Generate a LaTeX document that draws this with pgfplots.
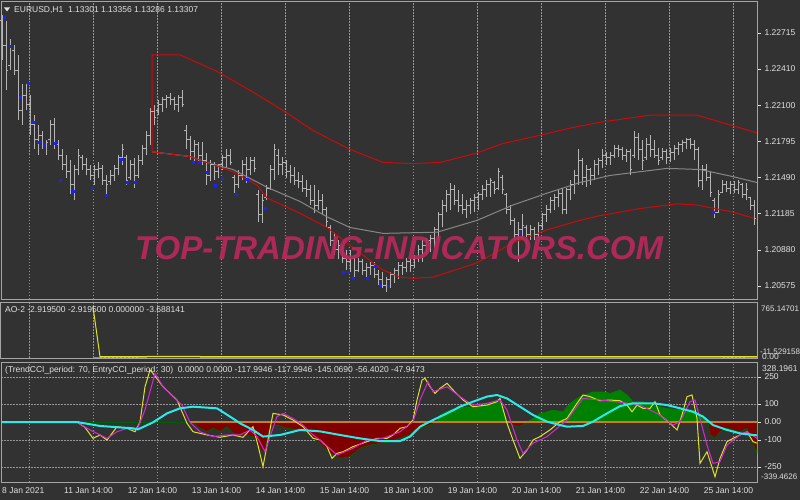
\documentclass[border=0pt]{standalone}
\usepackage{fontspec}
\setmainfont{Liberation Sans}
\usepackage{pgfplots}
\usepackage{pgfplotstable}
\pgfplotsset{compat=1.18}
\definecolor{bg}{RGB}{50,50,50}
\definecolor{framecol}{RGB}{165,165,165}
\definecolor{gridcol}{RGB}{150,150,150}
\definecolor{labcol}{RGB}{225,225,225}
\definecolor{barcol}{RGB}{180,180,180}
\definecolor{bandred}{RGB}{205,10,10}
\definecolor{magray}{RGB}{135,135,135}
\definecolor{mkblue}{RGB}{30,30,255}
\definecolor{cciyel}{RGB}{225,225,40}
\definecolor{ccimag}{RGB}{215,40,215}
\definecolor{ccicyan}{RGB}{40,235,235}
\definecolor{fillgreen}{RGB}{0,128,0}
\definecolor{fillred}{RGB}{128,0,0}
\definecolor{dkgreen}{RGB}{0,95,0}
\definecolor{zeroor}{RGB}{210,120,30}
\definecolor{wmcol}{RGB}{185,40,92}
\newcommand\lbl{\fontsize{8.5}{10}\selectfont}
\newcommand\slbl{\fontsize{8}{9.5}\selectfont}
\pgfdeclareplotmark{otick}{\pgfpathmoveto{\pgfqpoint{-1.6pt}{0pt}}\pgfpathlineto{\pgfqpoint{0pt}{0pt}}\pgfusepathqstroke}
\pgfdeclareplotmark{ctick}{\pgfpathmoveto{\pgfqpoint{0pt}{0pt}}\pgfpathlineto{\pgfqpoint{1.6pt}{0pt}}\pgfusepathqstroke}
\pgfplotsset{panel/.style={scale only axis, anchor=north west, width=756pt,
  xmin=1, xmax=757, axis line style={draw=framecol, line width=1pt},
  xtick={29,93,157,221,285,349,413,477,541,605,669,733}, xticklabels={},
  xtick style={draw=none}, xmajorgrids,
  grid style={gridcol, line width=0.9pt, dash pattern=on 1.5pt off 1.5pt},
  tick align=outside, major tick length=4pt,
  ytick style={draw=labcol, line width=0.8pt},
  yticklabel style={font=\lbl, text=labcol},
  ytick pos=right, yticklabel pos=right}}

\pgfplotstableread{
x hi lo op cl
2 1.2287 1.2249 1.2282 1.2261
6 1.2282 1.2223 1.2261 1.2240
10 1.2266 1.2240 1.2244 1.2261
14 1.2261 1.2236 1.2257 1.2240
18 1.2253 1.2198 1.2240 1.2206
22 1.2228 1.2194 1.2206 1.2219
26 1.2228 1.2206 1.2219 1.2211
30 1.2219 1.2185 1.2211 1.2194
34 1.2202 1.2173 1.2194 1.2181
38 1.2194 1.2168 1.2181 1.2185
42 1.2189 1.2173 1.2185 1.2177
46 1.2181 1.2168 1.2177 1.2179
50 1.2198 1.2177 1.2181 1.2194
54 1.2200 1.2173 1.2194 1.2177
58 1.2181 1.2164 1.2177 1.2168
62 1.2173 1.2156 1.2168 1.2160
66 1.2168 1.2149 1.2160 1.2154
70 1.2164 1.2135 1.2154 1.2143
74 1.2160 1.2130 1.2143 1.2156
78 1.2173 1.2151 1.2156 1.2168
82 1.2168 1.2156 1.2166 1.2160
86 1.2166 1.2151 1.2160 1.2156
90 1.2160 1.2147 1.2156 1.2151
94 1.2160 1.2143 1.2151 1.2156
98 1.2162 1.2149 1.2156 1.2157
102 1.2160 1.2143 1.2157 1.2147
106 1.2151 1.2135 1.2147 1.2143
110 1.2156 1.2143 1.2146 1.2151
114 1.2160 1.2146 1.2151 1.2157
118 1.2168 1.2151 1.2157 1.2166
122 1.2178 1.2160 1.2166 1.2173
126 1.2168 1.2143 1.2166 1.2147
130 1.2164 1.2147 1.2149 1.2160
134 1.2166 1.2140 1.2160 1.2151
138 1.2168 1.2149 1.2151 1.2164
142 1.2177 1.2160 1.2164 1.2174
146 1.2189 1.2168 1.2174 1.2185
150 1.2208 1.2177 1.2185 1.2205
154 1.2211 1.2194 1.2205 1.2200
158 1.2215 1.2202 1.2206 1.2211
162 1.2217 1.2205 1.2211 1.2215
166 1.2219 1.2208 1.2215 1.2217
170 1.2221 1.2211 1.2217 1.2215
174 1.2217 1.2206 1.2215 1.2211
178 1.2219 1.2205 1.2211 1.2217
182 1.2223 1.2209 1.2217 1.2211
186 1.2194 1.2173 1.2189 1.2181
190 1.2184 1.2164 1.2181 1.2171
194 1.2181 1.2162 1.2171 1.2177
198 1.2179 1.2162 1.2177 1.2168
202 1.2179 1.2160 1.2168 1.2164
206 1.2170 1.2143 1.2164 1.2151
210 1.2164 1.2146 1.2151 1.2160
214 1.2162 1.2147 1.2160 1.2154
218 1.2161 1.2149 1.2154 1.2160
222 1.2168 1.2156 1.2160 1.2166
226 1.2173 1.2157 1.2166 1.2168
230 1.2173 1.2160 1.2168 1.2162
234 1.2151 1.2136 1.2149 1.2143
238 1.2156 1.2140 1.2143 1.2151
242 1.2164 1.2147 1.2151 1.2160
246 1.2167 1.2145 1.2160 1.2156
250 1.2167 1.2151 1.2156 1.2164
254 1.2167 1.2154 1.2164 1.2157
258 1.2139 1.2112 1.2135 1.2118
262 1.2135 1.2111 1.2118 1.2130
266 1.2143 1.2130 1.2132 1.2140
270 1.2160 1.2139 1.2140 1.2156
274 1.2178 1.2147 1.2156 1.2173
278 1.2173 1.2151 1.2168 1.2160
282 1.2167 1.2151 1.2160 1.2162
286 1.2164 1.2149 1.2162 1.2154
290 1.2160 1.2145 1.2154 1.2151
294 1.2158 1.2143 1.2151 1.2147
298 1.2154 1.2140 1.2147 1.2146
302 1.2151 1.2137 1.2146 1.2140
306 1.2147 1.2133 1.2140 1.2139
310 1.2143 1.2126 1.2139 1.2130
314 1.2143 1.2119 1.2130 1.2126
318 1.2139 1.2122 1.2126 1.2130
322 1.2135 1.2118 1.2130 1.2122
326 1.2124 1.2107 1.2122 1.2112
330 1.2109 1.2091 1.2107 1.2096
334 1.2102 1.2084 1.2096 1.2088
338 1.2096 1.2080 1.2088 1.2092
342 1.2091 1.2077 1.2088 1.2081
346 1.2088 1.2071 1.2081 1.2078
350 1.2088 1.2069 1.2078 1.2081
354 1.2084 1.2065 1.2081 1.2071
358 1.2081 1.2069 1.2071 1.2078
362 1.2080 1.2067 1.2078 1.2071
366 1.2077 1.2065 1.2071 1.2073
370 1.2078 1.2067 1.2073 1.2075
374 1.2078 1.2064 1.2075 1.2067
378 1.2071 1.2058 1.2067 1.2063
382 1.2069 1.2056 1.2063 1.2058
386 1.2065 1.2052 1.2058 1.2063
390 1.2069 1.2056 1.2063 1.2067
394 1.2073 1.2060 1.2067 1.2071
398 1.2078 1.2063 1.2071 1.2075
402 1.2078 1.2067 1.2075 1.2073
406 1.2081 1.2069 1.2073 1.2078
410 1.2081 1.2069 1.2078 1.2075
414 1.2084 1.2073 1.2075 1.2081
418 1.2092 1.2078 1.2081 1.2088
422 1.2096 1.2078 1.2088 1.2092
426 1.2098 1.2084 1.2092 1.2096
430 1.2101 1.2086 1.2096 1.2098
434 1.2107 1.2090 1.2098 1.2105
438 1.2120 1.2096 1.2105 1.2118
442 1.2130 1.2107 1.2118 1.2126
446 1.2139 1.2120 1.2126 1.2135
450 1.2145 1.2122 1.2135 1.2139
454 1.2143 1.2126 1.2139 1.2130
458 1.2139 1.2120 1.2130 1.2126
462 1.2135 1.2118 1.2126 1.2122
466 1.2130 1.2115 1.2122 1.2126
470 1.2132 1.2118 1.2126 1.2130
474 1.2135 1.2120 1.2130 1.2132
478 1.2137 1.2122 1.2132 1.2135
482 1.2143 1.2130 1.2135 1.2139
486 1.2147 1.2133 1.2139 1.2143
490 1.2149 1.2133 1.2143 1.2147
494 1.2146 1.2135 1.2145 1.2139
498 1.2157 1.2139 1.2140 1.2154
502 1.2151 1.2135 1.2149 1.2139
506 1.2136 1.2118 1.2135 1.2122
510 1.2126 1.2109 1.2122 1.2113
514 1.2115 1.2096 1.2113 1.2101
518 1.2112 1.2078 1.2101 1.2105
522 1.2118 1.2096 1.2105 1.2109
526 1.2109 1.2092 1.2107 1.2101
530 1.2109 1.2096 1.2101 1.2105
534 1.2107 1.2096 1.2105 1.2101
538 1.2112 1.2098 1.2101 1.2109
542 1.2119 1.2105 1.2109 1.2118
546 1.2126 1.2112 1.2118 1.2122
550 1.2133 1.2119 1.2122 1.2130
554 1.2135 1.2122 1.2130 1.2132
558 1.2139 1.2124 1.2132 1.2136
562 1.2140 1.2118 1.2136 1.2122
566 1.2140 1.2118 1.2122 1.2139
570 1.2147 1.2130 1.2139 1.2143
574 1.2156 1.2135 1.2143 1.2151
578 1.2173 1.2143 1.2151 1.2164
582 1.2166 1.2143 1.2164 1.2149
586 1.2160 1.2141 1.2149 1.2156
590 1.2157 1.2143 1.2156 1.2151
594 1.2164 1.2147 1.2151 1.2160
598 1.2166 1.2151 1.2160 1.2164
602 1.2173 1.2157 1.2164 1.2168
606 1.2171 1.2160 1.2168 1.2166
610 1.2171 1.2160 1.2166 1.2168
614 1.2177 1.2166 1.2168 1.2174
618 1.2177 1.2167 1.2174 1.2173
622 1.2175 1.2164 1.2173 1.2168
626 1.2173 1.2162 1.2168 1.2171
630 1.2173 1.2151 1.2171 1.2156
634 1.2189 1.2166 1.2168 1.2183
638 1.2187 1.2164 1.2183 1.2173
642 1.2181 1.2156 1.2173 1.2164
646 1.2183 1.2164 1.2166 1.2177
650 1.2185 1.2167 1.2177 1.2173
654 1.2181 1.2166 1.2173 1.2168
658 1.2174 1.2160 1.2168 1.2164
662 1.2174 1.2164 1.2166 1.2171
666 1.2173 1.2161 1.2171 1.2166
670 1.2174 1.2162 1.2166 1.2170
674 1.2177 1.2164 1.2170 1.2174
678 1.2179 1.2168 1.2174 1.2177
682 1.2181 1.2171 1.2177 1.2179
686 1.2183 1.2173 1.2179 1.2181
690 1.2183 1.2173 1.2181 1.2177
694 1.2181 1.2164 1.2177 1.2173
698 1.2175 1.2141 1.2173 1.2147
702 1.2160 1.2139 1.2147 1.2156
706 1.2161 1.2146 1.2156 1.2149
710 1.2154 1.2133 1.2149 1.2137
714 1.2132 1.2115 1.2130 1.2120
718 1.2139 1.2119 1.2120 1.2135
722 1.2147 1.2136 1.2137 1.2143
726 1.2146 1.2137 1.2143 1.2140
730 1.2146 1.2135 1.2140 1.2143
734 1.2146 1.2136 1.2143 1.2139
738 1.2147 1.2135 1.2139 1.2145
742 1.2145 1.2132 1.2143 1.2135
746 1.2145 1.2130 1.2135 1.2139
750 1.2133 1.2122 1.2132 1.2126
754 1.2130 1.2109 1.2126 1.2115
}\bars

\begin{document}
\begin{tikzpicture}
\fill[bg] (0pt,0pt) rectangle (800pt,-500pt);

% ---------------- main price panel ----------------
\begin{axis}[panel, at={(1pt,-2pt)}, height=297pt,
  ymin=1.20465, ymax=1.22977,
  ytick={1.20575,1.20880,1.21185,1.21490,1.21795,1.22100,1.22410,1.22715},
  yticklabel style={/pgf/number format/.cd, fixed, fixed zerofill, precision=5, assume math mode=true}]
\addplot[barcol, line width=1pt, quiver={u=0, v=\thisrow{hi}-\thisrow{lo}}] table[x=x, y=lo] {\bars};
\addplot[only marks, mark=otick, barcol, mark options={line width=1pt}] table[x=x, y=op] {\bars};
\addplot[only marks, mark=ctick, barcol, mark options={line width=1pt}] table[x=x, y=cl] {\bars};
\addplot[magray, line width=1pt] coordinates {(152,1.2171) (190,1.2167) (207,1.2162) (233,1.2156) (267,1.2141) (300,1.2129) (327,1.2116) (350,1.2107) (383,1.2102) (437,1.2103) (477,1.2113) (513,1.2126) (547,1.2136) (580,1.2145) (610,1.2151) (667,1.2157) (700,1.2156) (733,1.2150) (757,1.2145)};
\addplot[bandred, line width=1pt] coordinates {(152,1.2171) (152,1.2253) (180,1.2253) (217,1.2239) (250,1.2223) (283,1.2206) (313,1.2189) (350,1.2173) (383,1.2162) (413,1.2161) (440,1.2162) (477,1.2170) (503,1.2178) (540,1.2185) (570,1.2191) (600,1.2196) (650,1.2202) (697,1.2202) (733,1.2193) (757,1.2187)};
\addplot[bandred, line width=1pt] coordinates {(152,1.2171) (190,1.2167) (233,1.2154) (257,1.2143) (267,1.2132) (300,1.2119) (327,1.2107) (353,1.2090) (367,1.2081) (383,1.2071) (400,1.2065) (413,1.2064) (433,1.2065) (477,1.2077) (513,1.2094) (547,1.2105) (580,1.2113) (600,1.2117) (640,1.2123) (677,1.2127) (697,1.2126) (733,1.2120) (757,1.2114)};
\addplot[only marks, mark=square*, mark size=1.1pt, mkblue] coordinates {(4,1.2285) (10,1.2260) (20,1.2217) (28,1.2229) (33,1.2196) (39,1.2179) (44,1.2177) (55,1.2178) (60,1.2147) (73,1.2138) (92,1.2140) (106,1.2134) (121,1.2165) (127,1.2145) (135,1.2145) (193,1.2162) (199,1.2162) (207,1.2154) (215,1.2143) (222,1.2149) (236,1.2135) (247,1.2148) (265,1.2123) (343,1.2069) (348,1.2069) (353,1.2064) (367,1.2064) (375,1.2074) (380,1.2058) (388,1.2057) (520,1.2103) (713,1.2120)};
\end{axis}

% ---------------- AO panel ----------------
\begin{axis}[panel, at={(1pt,-302pt)}, height=56pt, ymin=-11.53, ymax=765.15, ytick=\empty]
\addplot[zeroor, line width=1pt] coordinates {(93,-4) (757,-4)};
\addplot[ccicyan, line width=1pt, dash pattern=on 2pt off 2pt] coordinates {(100,-4) (140,-4)};
\addplot[ccicyan, line width=1pt, dash pattern=on 2pt off 2pt] coordinates {(723,-4) (747,-4)};
\addplot[fillgreen, line width=1pt] coordinates {(147,-4) (200,-4)};
\addplot[cciyel, line width=1pt] coordinates {(93,700) (100,7) (147,7) (147,10) (200,10) (200,7) (757,7)};
\end{axis}

% ---------------- CCI panel ----------------
\begin{axis}[panel, at={(1pt,-362pt)}, height=120pt, ymin=-333.3, ymax=333.3,
  ytick={-250,-100,0,100,250}, yticklabels={-250,-100,0.00,100,250}, ymajorgrids]
\addplot[fill=fillred, draw=dkgreen, line width=0.8pt] coordinates {(190,0) (193,-2) (200,-35) (207,-54) (213,-35) (220,-54) (227,-26) (233,-63) (243,-72) (253,-81) (262,-165) (265,-156) (270,-26) (277,-17) (287,-35) (300,-44) (310,-72) (320,-119) (330,-174) (340,-202) (350,-193) (360,-146) (370,-128) (380,-119) (390,-109) (400,-91) (410,-72) (420,-35) (430,-17) (437,0)} \closedcycle;
\addplot[fill=fillgreen, draw=fillgreen] coordinates {(437,0) (440,39) (450,67) (467,85) (480,85) (493,113) (500,131) (503,67) (507,0)} \closedcycle;
\addplot[fill=fillred, draw=dkgreen, line width=0.8pt] coordinates {(507,0) (512,-15) (517,-26) (522,-17) (527,0)} \closedcycle;
\addplot[fill=fillgreen, draw=fillgreen] coordinates {(527,0) (533,20) (540,48) (547,57) (553,67) (563,57) (570,104) (580,141) (593,168) (600,168) (607,165) (610,159) (620,178) (627,150) (633,113) (643,113) (653,94) (667,76) (680,67) (693,67) (700,39) (707,11) (708,0)} \closedcycle;
\addplot[fill=fillred, draw=dkgreen, line width=0.8pt] coordinates {(708,0) (710,-72) (715,-91) (720,-54) (727,-35) (733,-44) (740,-54) (747,-35) (752,-109) (757,-174)} \closedcycle;
\addplot[dkgreen, line width=1pt] coordinates {(77,0) (190,0)};
\addplot[zeroor, line width=1.2pt] coordinates {(190,0) (757,0)};
\addplot[cciyel, line width=1pt] coordinates {(0,0) (77,0) (85,-30) (93,-91) (100,-72) (107,-100) (117,-26) (127,-35) (135,-54) (140,0) (145,196) (150,289) (153,270) (163,196) (177,122) (187,-7) (193,-54) (207,-72) (220,-85) (233,-72) (243,-85) (253,-26) (258,-130) (263,-248) (268,-100) (273,48) (283,39) (293,11) (303,-26) (313,-90) (320,-100) (327,-137) (332,-202) (337,-174) (343,-165) (353,-137) (367,-109) (377,-91) (387,-91) (393,-72) (400,-35) (407,-26) (413,11) (417,122) (422,233) (425,243) (430,196) (435,159) (440,187) (447,215) (453,178) (463,122) (473,85) (487,94) (497,113) (500,131) (507,-7) (513,-100) (520,-202) (527,-156) (533,-100) (540,-81) (550,-44) (560,2) (567,20) (577,104) (583,150) (590,141) (600,118) (610,122) (620,118) (627,94) (632,57) (637,94) (643,76) (650,76) (655,113) (660,39) (670,-7) (677,-44) (682,39) (687,141) (692,150) (697,20) (700,-230) (707,-165) (715,-304) (720,-202) (727,-109) (733,-91) (740,-72) (747,-54) (753,-109) (757,-118)};
\addplot[ccimag, line width=1pt] coordinates {(77,0) (87,-35) (97,-63) (107,-91) (117,-54) (127,-35) (137,-44) (145,67) (155,270) (163,196) (173,141) (182,94) (190,-2) (200,-54) (213,-81) (227,-72) (240,-72) (250,-44) (257,-81) (265,-165) (270,-81) (277,30) (283,48) (293,20) (303,-17) (313,-72) (320,-100) (337,-183) (353,-146) (367,-100) (383,-91) (400,-54) (413,2) (420,122) (428,224) (433,168) (447,196) (460,141) (473,94) (487,104) (500,122) (507,67) (517,-100) (523,-174) (533,-118) (547,-81) (567,11) (583,131) (600,122) (620,110) (640,94) (660,39) (673,-17) (680,2) (690,113) (695,122) (700,20) (707,-128) (713,-230) (720,-220) (727,-128) (740,-72) (747,-54) (757,-91)};
\addplot[ccicyan, line width=2pt] coordinates {(0,0) (77,0) (100,-22) (120,-30) (133,-35) (138,-41) (153,-2) (167,48) (180,76) (193,85) (217,76) (230,30) (240,-7) (253,-44) (263,-81) (280,-72) (293,-54) (300,-44) (320,-52) (340,-72) (360,-91) (380,-106) (400,-106) (410,-81) (420,-26) (433,11) (447,48) (460,85) (473,113) (487,141) (497,150) (507,131) (520,85) (533,39) (547,2) (560,-17) (567,-26) (583,-22) (593,2) (607,48) (620,88) (633,104) (653,104) (667,94) (680,76) (693,57) (703,30) (713,-17) (727,-44) (740,-63) (753,-72) (757,-74)};
\end{axis}

% ---------------- texts ----------------
\fill[labcol] (4pt,-7.5pt) -- (10pt,-7.5pt) -- (7pt,-11.5pt) -- cycle;
\node[anchor=west, inner sep=0pt, font=\lbl, text=labcol] at (14pt,-10pt) {EURUSD,H1\ \ 1.13301 1.13356 1.13286 1.13307};
\node[anchor=west, inner sep=0pt, font=\lbl, text=labcol] at (5pt,-310pt) {AO-2 -2.919500 -2.919500 0.000000 -3.688141};
\node[anchor=west, inner sep=0pt, font=\lbl, text=labcol] at (5pt,-370pt) {(TrendCCI\_period: 70, EntryCCI\_period: 30)\ \ 0.0000 0.0000 -117.9946 -117.9946 -145.0690 -56.4020 -47.9473};
\node[anchor=west, inner sep=0pt, font=\slbl, text=labcol] at (761pt,-309pt) {765.14701};
\node[anchor=west, inner sep=0pt, font=\slbl, text=labcol] at (760pt,-352pt) {-11.529158};
\node[anchor=west, inner sep=0pt, font=\lbl, text=labcol] at (762pt,-357pt) {0.00};
\node[anchor=west, inner sep=0pt, font=\lbl, text=labcol] at (762pt,-369pt) {328.1961};
\node[anchor=west, inner sep=0pt, font=\slbl, text=labcol] at (761pt,-477pt) {-339.4626};
\node[anchor=west, inner sep=0pt, font=\lbl, text=labcol] at (2pt,-491pt) {8 Jan 2021};
\foreach \d [count=\k from 0] in {11 Jan 14:00,12 Jan 14:00,13 Jan 14:00,14 Jan 14:00,15 Jan 14:00,18 Jan 14:00,19 Jan 14:00,20 Jan 14:00,21 Jan 14:00,22 Jan 14:00,25 Jan 14:00}
  \node[inner sep=0pt, font=\lbl, text=labcol] at ({88.5pt+64pt*\k},-491pt) {\d};
\node[font=\fontsize{33}{33}\selectfont\bfseries\itshape, text=wmcol, opacity=0.92] at (399pt,-248pt) {TOP-TRADING-INDICATORS.COM};
\pgfresetboundingbox
\path[use as bounding box] (0pt,0pt) rectangle (800pt,-500pt);
\end{tikzpicture}
\end{document}
